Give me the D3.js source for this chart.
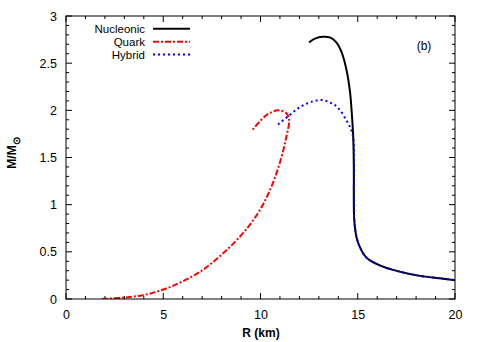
<!DOCTYPE html>
<html>
<head>
<meta charset="utf-8">
<script src="https://cdn.jsdelivr.net/npm/d3@7"></script>
<style>
  body { margin: 0; background: #fff; }
  svg text { font-family: "Liberation Sans", Arial, sans-serif; }
</style>
</head>
<body>
<div class="chart"></div>
<script>
const WIDTH = 479;
const HEIGHT = 342;
const LEFT = 66, RIGHT = 455, TOP = 16, BOTTOM = 299;

// R (km), M/Msun
var nucleonicR = [12.5, 12.8, 13.2, 13.6, 13.9, 14.2, 14.45, 14.6, 14.7, 14.77, 14.8, 14.8, 14.82, 14.93, 15.1, 15.44, 16.1, 17.15, 18.2, 19.2, 20];
var nucleonicM = [2.72, 2.76, 2.78, 2.77, 2.72, 2.6, 2.4, 2.2, 1.95, 1.7, 1.4, 1.05, 0.84, 0.66, 0.555, 0.44, 0.36, 0.29, 0.245, 0.22, 0.2];

var quarkR = [1.85, 2.93, 3.95, 5.0, 6.03, 7.05, 8.08, 9.11, 9.96, 10.56, 10.99, 11.33, 11.47, 11.33, 10.9, 10.31, 9.54];
var quarkM = [0.0, 0.014, 0.04, 0.1, 0.19, 0.31, 0.485, 0.7, 0.94, 1.19, 1.44, 1.72, 1.9, 1.97, 2.0, 1.95, 1.78];

var hybridR = [10.9, 11.5, 12.0, 12.6, 13.15, 13.6, 13.97, 14.4, 14.65, 14.78, 14.8, 14.8, 14.82, 14.93, 15.1, 15.44, 16.1, 17.15, 18.2, 19.2, 20];
var hybridM = [1.85, 1.95, 2.03, 2.09, 2.11, 2.08, 2.03, 1.9, 1.8, 1.69, 1.4, 1.05, 0.84, 0.66, 0.555, 0.44, 0.36, 0.29, 0.245, 0.22, 0.2];

var xTicks = [0, 5, 10, 15, 20];
var yTicks = [0, 0.5, 1, 1.5, 2, 2.5, 3];
var seriesNames = ['Nucleonic', 'Quark', 'Hybrid'];

var zip = function(a, b) { return a.map(function(v, i) { return [v, b[i]]; }); };

var series = [
  { name: seriesNames[0], pts: zip(nucleonicR, nucleonicM), color: '#000000', dash: null, width: 2 },
  { name: seriesNames[1], pts: zip(quarkR, quarkM), color: '#ff0000', dash: '6,2,2,2', width: 2 },
  { name: seriesNames[2], pts: zip(hybridR, hybridM), color: '#0000ff', dash: '2,3', width: 2 }
];

var x = d3.scaleLinear().domain([0, 20]).range([LEFT, RIGHT]);
var y = d3.scaleLinear().domain([0, 3]).range([BOTTOM, TOP]);

var svg = d3.select('.chart').append('svg')
  .attr('width', WIDTH)
  .attr('height', HEIGHT);

// ticks, inward, all four sides
var xMinor = d3.range(0, 20.01, 1);
var yMinor = d3.range(0, 3.001, 0.1);

var tickG = svg.append('g').attr('stroke', '#000').attr('stroke-width', 1);
xMinor.forEach(function(v) {
  var len = (v % 5 === 0) ? 6 : 3;
  tickG.append('line').attr('x1', x(v)).attr('x2', x(v)).attr('y1', BOTTOM).attr('y2', BOTTOM - len);
  tickG.append('line').attr('x1', x(v)).attr('x2', x(v)).attr('y1', TOP).attr('y2', TOP + len);
});
yMinor.forEach(function(v, i) {
  var len = (i % 5 === 0) ? 6 : 3;
  tickG.append('line').attr('x1', LEFT).attr('x2', LEFT + len).attr('y1', y(v)).attr('y2', y(v));
  tickG.append('line').attr('x1', RIGHT).attr('x2', RIGHT - len).attr('y1', y(v)).attr('y2', y(v));
});

// tick labels via d3 axes (tick lines hidden)
var xAxis = d3.axisBottom(x).tickValues(xTicks).tickSize(0).tickPadding(11).tickFormat(d3.format('d'));
var yAxis = d3.axisLeft(y).tickValues(yTicks).tickSize(0).tickPadding(9).tickFormat(function(d) { return String(d); });

var gx = svg.append('g').attr('transform', 'translate(0,' + BOTTOM + ')').call(xAxis);
var gy = svg.append('g').attr('transform', 'translate(' + LEFT + ',0)').call(yAxis);
[gx, gy].forEach(function(g) {
  g.select('.domain').remove();
  g.selectAll('text').attr('font-size', 12.5).attr('fill', '#000')
    .style('font-family', '"Liberation Sans", Arial, sans-serif');
});

// curves
var line = d3.line()
  .x(function(d) { return x(d[0]); })
  .y(function(d) { return y(d[1]); })
  .curve(d3.curveCatmullRom.alpha(0.5));

svg.append('clipPath').attr('id', 'plotClip')
  .append('rect').attr('x', LEFT).attr('y', TOP).attr('width', RIGHT - LEFT).attr('height', BOTTOM - TOP);

var curves = svg.append('g').attr('clip-path', 'url(#plotClip)');
series.forEach(function(s) {
  curves.append('path')
    .attr('d', line(s.pts))
    .attr('fill', 'none')
    .attr('stroke', s.color)
    .attr('stroke-width', s.width)
    .attr('stroke-dasharray', s.dash);
});

// frame
svg.append('rect')
  .attr('x', LEFT).attr('y', TOP)
  .attr('width', RIGHT - LEFT).attr('height', BOTTOM - TOP)
  .attr('fill', 'none').attr('stroke', '#000').attr('stroke-width', 1);

// legend
var legend = svg.append('g');
series.forEach(function(s, i) {
  var yy = 28.8 + i * 12.9;
  legend.append('text')
    .attr('x', 145).attr('y', yy + 4.2)
    .attr('text-anchor', 'end')
    .attr('font-size', 11.5)
    .text(s.name);
  legend.append('line')
    .attr('x1', 153).attr('x2', 190).attr('y1', yy).attr('y2', yy)
    .attr('stroke', s.color).attr('stroke-width', s.width)
    .attr('stroke-dasharray', s.dash);
});

// panel tag
svg.append('text')
  .attr('x', 424).attr('y', 50)
  .attr('text-anchor', 'middle')
  .attr('font-size', 12)
  .text('(b)');

// axis titles
svg.append('text')
  .attr('x', 261).attr('y', 337)
  .attr('text-anchor', 'middle')
  .attr('font-size', 12)
  .attr('font-weight', 'bold')
  .text('R (km)');

var yl = svg.append('text')
  .attr('transform', 'translate(16,153) rotate(-90)')
  .attr('text-anchor', 'middle')
  .attr('font-size', 12)
  .attr('font-weight', 'bold');
yl.append('tspan').text('M/M');
yl.append('tspan').attr('dy', 4).attr('font-size', 10).text('\u2299');
</script>
</body>
</html>
